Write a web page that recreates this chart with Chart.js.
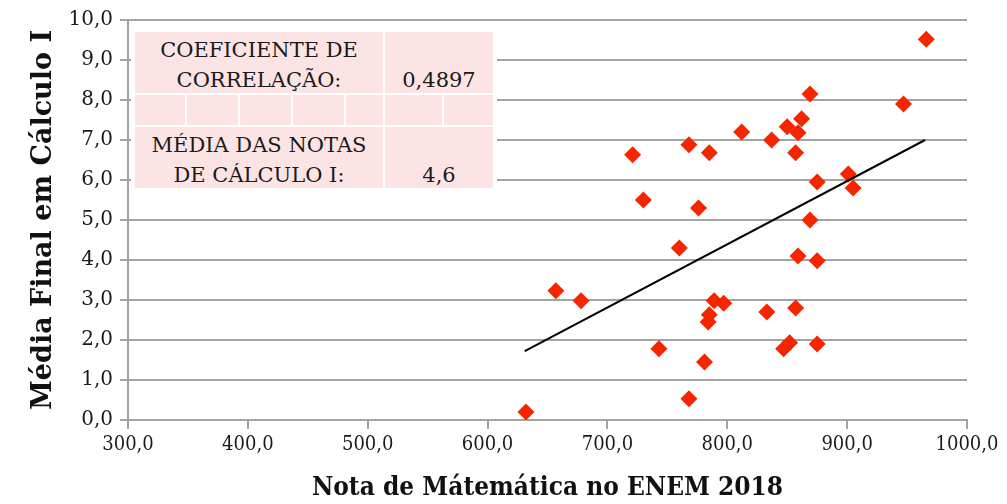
<!DOCTYPE html>
<html>
<head>
<meta charset="utf-8">
<script src="https://cdn.jsdelivr.net/npm/chart.js@4.4.0/dist/chart.umd.min.js"></script>
<style>
  body { margin: 0; background: #fff; }
  #wrap { position: relative; width: 1007px; height: 504px; }
  #info { position: absolute; left: 131px; top: 28px; width: 366px; height: 163px; background: #fff;
          font-family: "DejaVu Serif", serif; font-size: 21px; color: #1a1a1a; }
  .cell { position: absolute; background: #fce4e4; text-align: center; line-height: 30px; box-sizing: border-box; }
  .big { height: 61px; padding-top: 3px; }
  .small { top: 67px; height: 30px; }
</style>
</head>
<body>
<div id="wrap">
  <canvas id="chart" width="1007" height="504"></canvas>
  <div id="info">
    <div class="cell big" style="left:4px;top:4px;width:248px;">COEFICIENTE DE<br>CORRELAÇÃO:</div>
    <div class="cell big" style="left:254px;top:4px;width:108px;padding-top:33px;">0,4897</div>
    <div class="cell small" style="left:4px;width:50px;"></div>
    <div class="cell small" style="left:56px;width:51px;"></div>
    <div class="cell small" style="left:109px;width:51px;"></div>
    <div class="cell small" style="left:162px;width:51px;"></div>
    <div class="cell small" style="left:215px;width:37px;"></div>
    <div class="cell small" style="left:254px;width:57px;"></div>
    <div class="cell small" style="left:313px;width:49px;"></div>
    <div class="cell big" style="left:4px;top:99px;width:248px;">MÉDIA DAS NOTAS<br>DE CÁLCULO I:</div>
    <div class="cell big" style="left:254px;top:99px;width:108px;padding-top:33px;">4,6</div>
  </div>
</div>
<script>
// notas do ENEM (matemática) e média final em Cálculo I
const notaEnem = [966, 869, 947, 862, 850, 859, 812, 837, 768, 721, 785, 857, 875, 901, 905, 730, 776, 869,
                  760, 859, 875, 657, 678, 789, 797, 833, 857, 785, 784, 743, 847, 852, 875, 781, 768, 632];
const mediaCalculo = [9.52, 8.15, 7.9, 7.53, 7.33, 7.18, 7.2, 7.0, 6.88, 6.63, 6.68, 6.68, 5.95, 6.15, 5.8, 5.5, 5.3, 5.0,
                      4.3, 4.1, 3.98, 3.23, 2.98, 2.98, 2.92, 2.7, 2.8, 2.63, 2.45, 1.78, 1.78, 1.93, 1.9, 1.45, 0.53, 0.2];

// linha de tendência (linear)
const tendenciaX = [631, 965];
const tendenciaY = [1.72, 7.0];

const xTickLabels = ['300,0', '400,0', '500,0', '600,0', '700,0', '800,0', '900,0', '1000,0'];
const yTickLabels = ['0,0', '1,0', '2,0', '3,0', '4,0', '5,0', '6,0', '7,0', '8,0', '9,0', '10,0'];

const pontos = notaEnem.map((x, i) => ({ x: x, y: mediaCalculo[i] }));
const tendencia = tendenciaX.map((x, i) => ({ x: x, y: tendenciaY[i] }));

const cinza = '#a3a3a3';
const serif = '"DejaVu Serif", serif';
const serifCond = '"DejaVu Serif Condensed", "DejaVu Serif", serif';

new Chart(document.getElementById('chart'), {
    type: 'scatter',
    data: {
        datasets: [{
            data: pontos,
            pointStyle: 'rectRot',
            pointRadius: 8.5,
            backgroundColor: '#f52500',
            borderColor: '#f52500',
            borderWidth: 0,
            order: 2
        }, {
            type: 'line',
            data: tendencia,
            borderColor: '#000',
            borderWidth: 2,
            pointRadius: 0,
            fill: false,
            order: 1
        }]
    },
    options: {
        responsive: false,
        animation: false,
        layout: { padding: { top: 20, right: 40, left: 0, bottom: 0 } },
        plugins: { legend: { display: false }, tooltip: { enabled: false } },
        scales: {
            x: {
                type: 'linear',
                min: 300, max: 1000,
                afterFit: (s) => { s.height = 84; },
                ticks: {
                    stepSize: 100,
                    color: '#1a1a1a',
                    font: { family: serifCond, size: 20 },
                    padding: 4,
                    maxRotation: 0,
                    callback: (v) => xTickLabels[Math.round((v - 300) / 100)]
                },
                grid: { drawOnChartArea: false, drawTicks: true, tickLength: 9, color: cinza, lineWidth: 2 },
                border: { color: cinza, width: 2 },
                title: {
                    display: true,
                    text: 'Nota de Mátemática no ENEM 2018',
                    color: '#111',
                    font: { family: serifCond, size: 26, weight: 'bold' },
                    padding: { top: 0, bottom: 0 }
                }
            },
            y: {
                min: 0, max: 10,
                afterFit: (s) => { s.width = 128; },
                ticks: {
                    stepSize: 1,
                    color: '#1a1a1a',
                    font: { family: serif, size: 20 },
                    padding: 7,
                    callback: (v) => yTickLabels[Math.round(v)]
                },
                grid: { color: cinza, lineWidth: 2, tickLength: 8 },
                border: { color: cinza, width: 2 },
                title: {
                    display: true,
                    text: 'Média Final em Cálculo I',
                    color: '#111',
                    font: { family: serif, size: 27, weight: 'bold' },
                    padding: { top: 28, bottom: 0 }
                }
            }
        }
    }
});
</script>
</body>
</html>
